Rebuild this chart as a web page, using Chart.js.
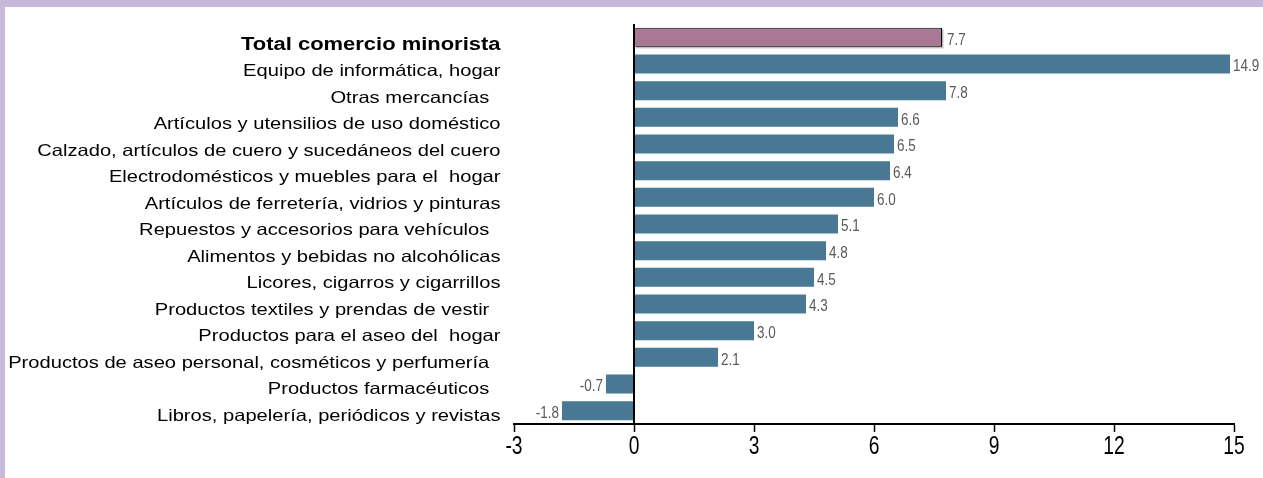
<!DOCTYPE html>
<html>
<head>
<meta charset="utf-8">
<script src="https://cdn.jsdelivr.net/npm/chart.js@4.4.1/dist/chart.umd.min.js"></script>
<style>
  html, body { margin: 0; padding: 0; background: #ffffff; }
  #wrap { position: relative; width: 1263px; height: 478px; overflow: hidden; }
  #chart { position: absolute; left: 0; top: 0; }
  .band { position: absolute; background: #c8b9da; }
</style>
</head>
<body>
<div id="wrap">
  <canvas id="chart" width="1263" height="478"></canvas>
  <div class="band" style="left:0;top:0;width:1263px;height:7px"></div>
  <div class="band" style="left:0;top:0;width:5px;height:478px"></div>
</div>
<script>
// Variación por grupo de mercancías (%)
const categories = [
  "Total comercio minorista",
  "Equipo de informática, hogar",
  "Otras mercancías  ",
  "Artículos y utensilios de uso doméstico",
  "Calzado, artículos de cuero y sucedáneos del cuero",
  "Electrodomésticos y muebles para el  hogar",
  "Artículos de ferretería, vidrios y pinturas",
  "Repuestos y accesorios para vehículos  ",
  "Alimentos y bebidas no alcohólicas",
  "Licores, cigarros y cigarrillos",
  "Productos textiles y prendas de vestir  ",
  "Productos para el aseo del  hogar",
  "Productos de aseo personal, cosméticos y perfumería  ",
  "Productos farmacéuticos  ",
  "Libros, papelería, periódicos y revistas"
];
const values = [7.7, 14.9, 7.8, 6.6, 6.5, 6.4, 6.0, 5.1, 4.8, 4.5, 4.3, 3.0, 2.1, -0.7, -1.8];
const xTicks = [-3, 0, 3, 6, 9, 12, 15];

const TOTAL_COLOR = '#a97894';
const GROUP_COLOR = '#487893';
const SANS = "'Liberation Sans', Arial, sans-serif";

// Draws text squeezed or widened horizontally around an anchor point
function drawScaledText(ctx, text, x, y, sx, align) {
  ctx.save();
  ctx.translate(x, y);
  ctx.scale(sx, 1);
  ctx.textAlign = align;
  ctx.fillText(text, 0, 0);
  ctx.restore();
}

// Category names to the left of the plot
const categoryLabels = {
  id: 'categoryLabels',
  afterDraw(chart) {
    const ctx = chart.ctx;
    const y = chart.scales.y;
    const right = 500.5;
    ctx.save();
    ctx.fillStyle = '#000000';
    ctx.textBaseline = 'alphabetic';
    categories.forEach((label, i) => {
      const bold = i === 0;
      const size = bold ? 18 : 16.5;
      const capMid = y.getPixelForValue(i) + 6.3 - 0.16 * i;
      ctx.font = (bold ? 'bold ' : '') + size + 'px ' + SANS;
      drawScaledText(ctx, label, right, capMid + 0.358 * size, 1.22, 'right');
    });
    ctx.restore();
  }
};

// Tick labels under the value axis
const valueAxisLabels = {
  id: 'valueAxisLabels',
  afterDraw(chart) {
    const ctx = chart.ctx;
    const x = chart.scales.x;
    const base = chart.chartArea.bottom + 30;
    ctx.save();
    ctx.fillStyle = '#000000';
    ctx.font = '26px ' + SANS;
    ctx.textBaseline = 'alphabetic';
    xTicks.forEach(v => {
      drawScaledText(ctx, String(v), x.getPixelForValue(v), base, 0.74, 'center');
    });
    ctx.restore();
  }
};

// Soft grey drop shadow under the total bar
const totalShadow = {
  id: 'totalShadow',
  beforeDatasetsDraw(chart) {
    const bar = chart.getDatasetMeta(0).data[0];
    if (!bar) return;
    const ctx = chart.ctx;
    const h = bar.height;
    ctx.save();
    ctx.fillStyle = '#bdbdbd';
    ctx.fillRect(bar.base + 1.5, bar.y - h / 2 + 1.5, bar.x - bar.base, h);
    ctx.restore();
  }
};

// Value at the end of each bar, and the vertical line at zero
const barValues = {
  id: 'barValues',
  afterDatasetsDraw(chart) {
    const ctx = chart.ctx;
    const meta = chart.getDatasetMeta(0);
    const x = chart.scales.x;
    const area = chart.chartArea;
    ctx.save();
    ctx.font = '16px ' + SANS;
    ctx.fillStyle = '#595959';
    ctx.textBaseline = 'alphabetic';
    meta.data.forEach((bar, i) => {
      const v = values[i];
      const txt = v.toFixed(1);
      const yy = bar.y + 1.5 + 5.7;
      if (v >= 0) {
        drawScaledText(ctx, txt, bar.x + (i === 0 ? 5 : 3), yy, 0.84, 'left');
      } else {
        drawScaledText(ctx, txt, bar.x - 3, yy, 0.84, 'right');
      }
    });
    const x0 = Math.round(x.getPixelForValue(0));
    ctx.strokeStyle = '#000000';
    ctx.lineWidth = 2;
    ctx.beginPath();
    ctx.moveTo(x0, area.top);
    ctx.lineTo(x0, area.bottom);
    ctx.stroke();
    ctx.restore();
  }
};

new Chart(document.getElementById('chart'), {
  type: 'bar',
  data: {
    labels: categories,
    datasets: [{
      data: values,
      backgroundColor: values.map((v, i) => i === 0 ? TOTAL_COLOR : GROUP_COLOR),
      borderColor: '#000000',
      borderWidth: values.map((v, i) => i === 0 ? 1 : 0),
      categoryPercentage: 1.0,
      barPercentage: 0.715
    }]
  },
  options: {
    indexAxis: 'y',
    responsive: false,
    animation: false,
    devicePixelRatio: 1,
    layout: { padding: { left: 0, right: 29, top: 24, bottom: 0 } },
    plugins: {
      legend: { display: false },
      tooltip: { enabled: false },
      title: { display: false }
    },
    scales: {
      x: {
        type: 'linear',
        min: -3,
        max: 15,
        afterBuildTicks: s => { s.ticks = xTicks.map(v => ({ value: v })); },
        afterFit: s => { s.height = 54; },
        border: { display: true, color: '#000000', width: 2 },
        grid: {
          drawOnChartArea: false,
          drawTicks: true,
          tickLength: 8,
          tickColor: '#000000',
          tickWidth: 1.5
        },
        ticks: { display: false }
      },
      y: {
        type: 'category',
        afterFit: s => { s.width = 514; },
        border: { display: false },
        grid: { display: false },
        ticks: { display: false }
      }
    }
  },
  plugins: [totalShadow, categoryLabels, valueAxisLabels, barValues]
});
</script>
</body>
</html>
